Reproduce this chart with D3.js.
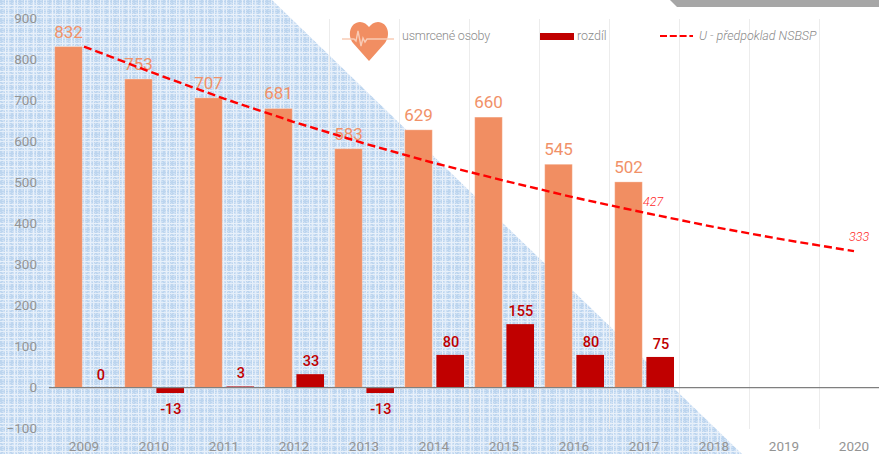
<!DOCTYPE html>
<html><head><meta charset="utf-8">
<script src="https://cdn.jsdelivr.net/npm/d3@7"></script>
<style>
html,body{margin:0;padding:0;background:#fff}
svg{display:block;font-family:Roboto,sans-serif}
.domain{display:none}
</style></head><body>
<svg id="c" width="879" height="454"></svg>
<script>
const years = ["2009","2010","2011","2012","2013","2014","2015","2016","2017","2018","2019","2020"];
const killed = [832,753,707,681,583,629,660,545,502];
const diff = [0,-13,3,33,-13,80,155,80,75];
const forecast = [832,767,705,648,596,548,505,464,427,392,361,333];
const yTicks = [-100,0,100,200,300,400,500,600,700,800,900];
const forecastLabelled = ["2017","2020"];
const legendKilled = "usmrcené osoby", legendDiff = "rozdíl", legendForecast = "U - předpoklad NSBSP";

const svg = d3.select("#c");
const x = d3.scaleBand().domain(years).range([49,889]);
const y = d3.scaleLinear().domain([-100,900]).range([428.7,18.7]);
const ORANGE="#f18e62", ORANGE_T="#f19168", RED="#c00000", DASH="#ff0000", GREY="#949494";

// background pattern
const defs = svg.append("defs");
const T=19;
const p = defs.append("pattern").attr("id","hatch").attr("patternUnits","userSpaceOnUse").attr("width",T).attr("height",T);
p.append("rect").attr("width",T).attr("height",T).attr("fill","#cfe1f5");
for(let i=0;i<T;i+=2)for(let j=(i%4?1:0);j<T;j+=2)
  p.append("rect").attr("x",i).attr("y",j).attr("width",1).attr("height",1).attr("fill","#bdd5ee");
[[1,"#bad3ed"],[11,"#bad3ed"]].forEach(([a,c])=>{
  p.append("rect").attr("x",a).attr("y",0).attr("width",1).attr("height",T).attr("fill",c).attr("opacity",.8);
  p.append("rect").attr("y",a).attr("x",0).attr("height",1).attr("width",T).attr("fill",c).attr("opacity",.8);
});
[[5,"#e9f1fa"],[8,"#e4eef9"],[14,"#e9f1fa"],[17,"#e4eef9"]].forEach(([a,c])=>{
  p.append("rect").attr("x",a).attr("y",0).attr("width",1).attr("height",T).attr("fill",c);
  p.append("rect").attr("y",a).attr("x",0).attr("height",1).attr("width",T).attr("fill",c);
});
svg.append("polygon").attr("points","0,0 272,0 742,454 0,454").attr("fill","url(#hatch)");
svg.append("polygon").attr("points","670,0 879,0 879,7 677,7").attr("fill","#a6a6a6");

// grid
svg.append("g").selectAll("line").data(years).join("line")
  .attr("x1",d=>x(d)+x.bandwidth()).attr("x2",d=>x(d)+x.bandwidth())
  .attr("y1",y(900)).attr("y2",y(-100)).attr("stroke","#ececec").attr("stroke-width",1)
  .attr("shape-rendering","crispEdges");

// axes
const gy = svg.append("g").attr("transform","translate(40,-0.7)")
  .call(d3.axisLeft(y).tickValues(yTicks).tickFormat(d3.format("d")).tickSize(0).tickPadding(3));
const gx = svg.append("g").attr("transform","translate(0,428)")
  .call(d3.axisBottom(x).tickSize(0).tickPadding(13));
[gy,gx].forEach(g=>g.selectAll("text").attr("font-family","Roboto").attr("font-size",13.5).attr("fill",GREY));

// bars
const pad=5.7, bw=27.6, redOff=37.4;
svg.append("g").selectAll("rect").data(killed).join("rect")
  .attr("x",(d,i)=>x(years[i])+pad).attr("width",bw)
  .attr("y",d=>y(d)).attr("height",d=>y(0)-y(d)).attr("fill",ORANGE)
  .attr("stroke","#fff").attr("stroke-opacity",.3).attr("stroke-width",1);
svg.append("g").selectAll("rect").data(diff).join("rect")
  .attr("x",(d,i)=>x(years[i])+redOff).attr("width",bw)
  .attr("y",d=>y(Math.max(d,0))).attr("height",d=>Math.abs(y(d)-y(0))).attr("fill",RED);

// zero line
svg.append("line").attr("x1",49).attr("x2",879).attr("y1",y(0)).attr("y2",y(0)).attr("stroke","#7f7f7f").attr("stroke-width",1.2);

// bar labels
svg.append("g").selectAll("text").data(killed).join("text")
  .attr("x",(d,i)=>x(years[i])+pad+bw/2).attr("y",d=>y(d)-9)
  .attr("text-anchor","middle").attr("font-size",17).attr("font-weight",400).attr("fill",ORANGE_T).text(d=>d);
svg.append("g").selectAll("text").data(diff).join("text")
  .attr("x",(d,i)=>x(years[i])+redOff+bw/2+0.7).attr("y",d=>d<0?y(d)+21:y(d)-8)
  .attr("text-anchor","middle").attr("font-size",14.5).attr("font-weight",500).attr("fill",RED).text(d=>d);

// forecast line
const line = d3.line().x((d,i)=>x(years[i])+x.bandwidth()/2).y(d=>y(d));
svg.append("path").attr("d",line(forecast)).attr("fill","none").attr("stroke",DASH)
  .attr("stroke-width",2.4).attr("stroke-dasharray","8,4");
svg.append("g").selectAll("text").data(forecastLabelled).join("text")
  .attr("x",d=>x(d)+x.bandwidth()/2+(d==="2017"?-1:-5))
  .attr("y",d=>y(forecast[years.indexOf(d)])-(d==="2017"?7:10))
  .attr("font-size",12.5).attr("font-style","italic").attr("font-weight",300).attr("fill","#ff2a2a")
  .text(d=>forecast[years.indexOf(d)]);

// legend
const lg = svg.append("g");
lg.append("path").attr("fill",ORANGE)
  .attr("d","M369,61 L353,43 C347,35 350,22.5 360,22 C364,22 367,24.5 369,27 C371,24.5 374,22 378,22 C388,22.5 391,35 385,43 Z");
lg.append("path").attr("fill","none").attr("stroke","#f9cbb5").attr("stroke-width",1.4)
  .attr("d","M342,39 H354 L356,41 L358,31 L361,46 L363,38 L365,42 L367,39 H394");
const LEG="#8a8a8a";
lg.append("text").attr("x",402).attr("y",40).attr("font-size",12.5).attr("font-weight",300).attr("fill",LEG).attr("letter-spacing",-0.2).text(legendKilled);
lg.append("rect").attr("x",540).attr("y",33).attr("width",34).attr("height",7).attr("fill",RED);
lg.append("text").attr("x",577).attr("y",40).attr("font-size",12.5).attr("font-weight",300).attr("fill",LEG).text(legendDiff);
lg.append("line").attr("x1",660).attr("x2",693).attr("y1",36).attr("y2",36).attr("stroke",DASH).attr("stroke-width",2.2).attr("stroke-dasharray","7,2.8");
lg.append("text").attr("x",699).attr("y",40).attr("font-size",12.5).attr("font-style","italic").attr("font-weight",300).attr("fill",LEG).text(legendForecast);
</script></body></html>
